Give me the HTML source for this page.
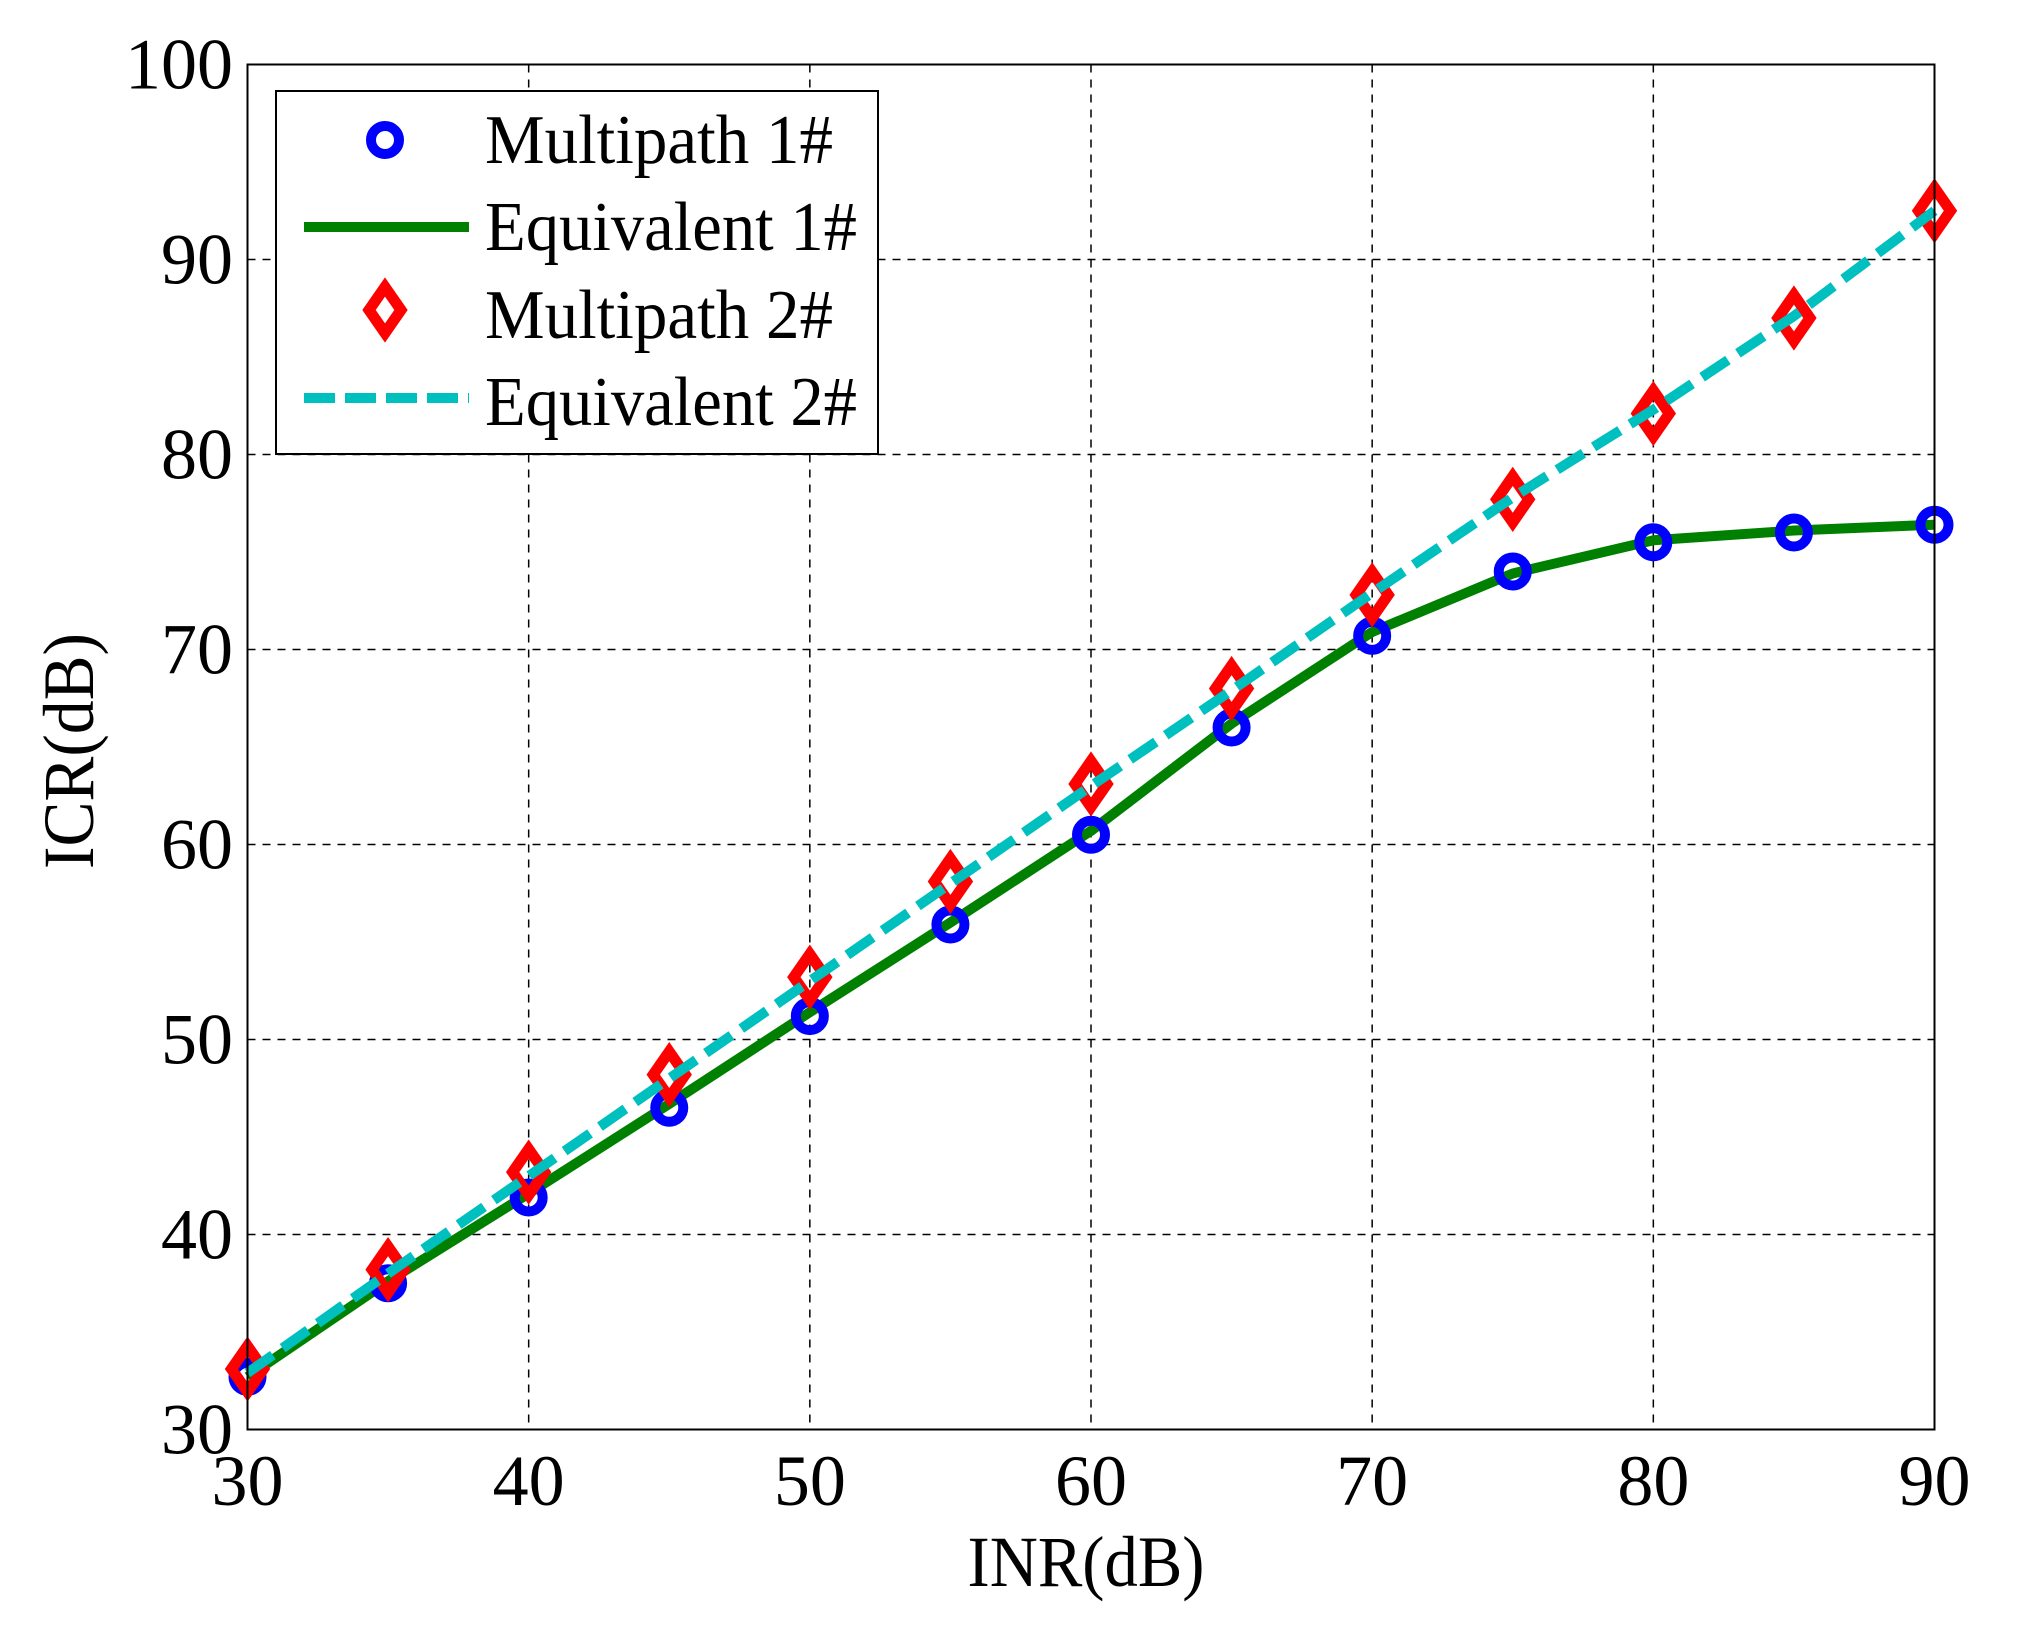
<!DOCTYPE html>
<html><head><meta charset="utf-8"><style>
html,body{margin:0;padding:0;background:#fff;}
svg{display:block;font-family:"Liberation Serif",serif;}
</style></head><body>
<svg id="chart" width="2023" height="1638" viewBox="0 0 2023 1638" xmlns="http://www.w3.org/2000/svg">
<rect width="2023" height="1638" fill="#fff"/>
<g id="grid"></g>
<g id="series"></g>
<rect x="247.5" y="64.5" width="1687" height="1365" fill="none" stroke="#000" stroke-width="2"/>
<g id="ticks" font-size="72" fill="#000"></g>
<text x="1086" y="1586" font-size="72" text-anchor="middle" textLength="237" lengthAdjust="spacingAndGlyphs">INR(dB)</text>
<text transform="translate(93,751) rotate(-90)" font-size="72" text-anchor="middle" textLength="236" lengthAdjust="spacingAndGlyphs">ICR(dB)</text>
<g>
<rect x="276" y="91" width="602" height="363" fill="#fff" stroke="#000" stroke-width="2"/>
<g>
<circle cx="385" cy="140" r="14" fill="none" stroke="#0000ff" stroke-width="10"/>
<text x="485" y="163" font-size="70" textLength="348" lengthAdjust="spacingAndGlyphs">Multipath 1#</text></g>
<g>
<line x1="304" y1="227" x2="469" y2="227" stroke="#008000" stroke-width="10"/>
<text x="485" y="250" font-size="70" textLength="372" lengthAdjust="spacingAndGlyphs">Equivalent 1#</text></g>
<g>
<path d="M385 287 L401 310 L385 333 L369 310 Z" fill="none" stroke="#ff0000" stroke-width="11"/>
<text x="485" y="338" font-size="70" textLength="348" lengthAdjust="spacingAndGlyphs">Multipath 2#</text></g>
<g>
<line x1="304" y1="398" x2="469" y2="398" stroke="#00bfbf" stroke-width="10" stroke-dasharray="31 10"/>
<text x="485" y="425" font-size="70" textLength="372" lengthAdjust="spacingAndGlyphs">Equivalent 2#</text></g>
</g>
</svg>
<script>
const inr = [30,35,40,45,50,55,60,65,70,75,80,85,90];
const multipath1 = [32.7,37.5,41.9,46.5,51.2,55.9,60.5,66.0,70.7,74.0,75.5,76.0,76.4];
const equivalent1 = [32.7,37.6,42.1,46.7,51.4,56.0,60.7,66.2,70.9,73.9,75.6,76.1,76.4];
const multipath2 = [33.1,38.2,43.2,48.2,53.2,58.1,63.1,68.0,72.8,77.7,82.1,87.0,92.5];
const equivalent2 = [32.9,38.0,43.0,48.0,53.0,58.0,63.0,67.9,72.9,77.8,82.3,87.1,92.5];
const xTicks = [30,40,50,60,70,80,90];
const yTicks = [30,40,50,60,70,80,90,100];

const X0=247.5, X1=1934.5, Y0=1429.5, Y1=64.5;
function sx(v){return X0+(v-30)/60*(X1-X0);}
function sy(v){return Y0-(v-30)/70*(Y0-Y1);}
const NS='http://www.w3.org/2000/svg';
function mk(tag,attrs,parent){const e=document.createElementNS(NS,tag);for(const k in attrs)e.setAttribute(k,attrs[k]);parent.appendChild(e);return e;}
const grid=document.getElementById('grid'), ticks=document.getElementById('ticks'), series=document.getElementById('series');

xTicks.forEach(v=>{
  const x=sx(v);
  if(v>30&&v<90){
    const g=mk('line',{x1:x,y1:Y1,x2:x,y2:Y0,stroke:'#000','stroke-width':1.5,'stroke-dasharray':'8 7'},grid);
    
    
  }
  const t=mk('text',{x:x,y:1505,'text-anchor':'middle'},ticks);
  t.textContent=v;
  
  
});
yTicks.forEach(v=>{
  const y=sy(v);
  if(v>30&&v<100){
    const g=mk('line',{x1:X0,y1:y,x2:X1,y2:y,stroke:'#000','stroke-width':1.5,'stroke-dasharray':'8 7'},grid);
    
    
  }
  const t=mk('text',{x:233,y:y+24,'text-anchor':'end'},ticks);
  t.textContent=v;
  
  
});

function pts(arr){return arr.map((v,i)=>sx(inr[i])+','+sy(v)).join(' ');}
const l1=mk('polyline',{points:pts(equivalent1),fill:'none',stroke:'#008000','stroke-width':10,'stroke-linejoin':'round'},series);


multipath1.forEach((v,i)=>{
  const c=mk('circle',{cx:sx(inr[i]),cy:sy(v),r:14,fill:'none',stroke:'#0000ff','stroke-width':10},series);
  
  
});
multipath2.forEach((v,i)=>{
  const x=sx(inr[i]),y=sy(v);
  const d=mk('path',{d:`M${x} ${y-23} L${x+16} ${y} L${x} ${y+23} L${x-16} ${y} Z`,fill:'none',stroke:'#ff0000','stroke-width':11},series);
  
  
});
const l2=mk('polyline',{points:pts(equivalent2),fill:'none',stroke:'#00bfbf','stroke-width':10,'stroke-dasharray':'31 12'},series);


</script>
</body></html>
